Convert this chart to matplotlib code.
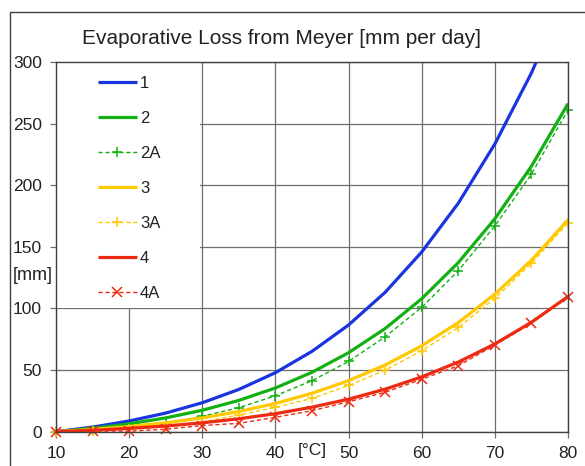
import matplotlib
matplotlib.use("Agg")
import matplotlib.pyplot as plt
from matplotlib.patches import Rectangle

plt.rcParams['font.family'] = ['Liberation Sans', 'DejaVu Sans']

# water temperature [°C]
temps = [10, 15, 20, 25, 30, 35, 40, 45, 50, 55, 60, 65, 70, 75, 80]

# evaporative loss [mm per day]
loss_1 = [0, 3.7, 8.7, 15.1, 23.5, 34.3, 47.9, 65.2, 86.6, 113.1, 145.8, 185.4, 233.5, 291.1, 359.7]
loss_2 = [0, 2.7, 6.4, 11.2, 17.4, 25.4, 35.5, 48.2, 64.1, 83.7, 107.9, 137.2, 172.8, 215.4, 266.2]
loss_2a = [0, 1.0, 3.2, 7.0, 12.5, 19.5, 29.2, 41.4, 57.0, 77.0, 100.9, 130.6, 167.0, 209.0, 261.0]
loss_3 = [0, 1.8, 4.2, 7.2, 11.2, 16.4, 22.9, 31.2, 41.4, 54.1, 69.7, 88.6, 111.6, 139.1, 171.9]
loss_3a = [0, 0.5, 2.0, 4.5, 8.0, 13.5, 19.8, 27.0, 37.5, 50.0, 65.7, 84.6, 108.2, 136.6, 169.5]
loss_4 = [0, 1.1, 2.7, 4.6, 7.2, 10.5, 14.6, 19.9, 26.4, 34.5, 44.5, 56.5, 71.2, 88.8, 109.7]
loss_4a = [0, 0.5, 0.5, 2.0, 5.0, 6.8, 11.7, 17.0, 24.3, 32.0, 42.5, 53.5, 70.3, 87.9, 109.5]

BLUE = '#1a35e0'
GREEN = '#12b012'
YELLOW = '#ffc800'
RED = '#ee2a12'

fig = plt.figure(figsize=(5.85, 4.66), dpi=100)
ax = fig.add_axes([56 / 585, 1 - 431.7 / 466, 512 / 585, 369.7 / 466])

solid = dict(lw=2.3, solid_capstyle='butt')
dashed = dict(lw=1.0, ls=(0, (3, 2)), ms=7, mew=1.1, clip_on=False)

ax.plot(temps, loss_1, color=BLUE, label='1', **solid)
ax.plot(temps, loss_2, color=GREEN, label='2', **solid)
ax.plot(temps, loss_2a, color=GREEN, marker='+', label='2A', **dashed)
ax.plot(temps, loss_3, color=YELLOW, label='3', **solid)
ax.plot(temps, loss_3a, color=YELLOW, marker='+', label='3A', **dashed)
ax.plot(temps, loss_4, color=RED, label='4', **solid)
ax.plot(temps, loss_4a, color=RED, marker='x', label='4A', **dashed)

ax.set_xlim(10, 80)
ax.set_ylim(0, 300)
ax.set_xticks(range(10, 81, 10))
ax.set_yticks(range(0, 301, 50))
ax.set_axisbelow(True)
ax.grid(True, color='#6e6e6e', lw=0.9)
ax.tick_params(direction='out', length=4, width=0.9, color='#6e6e6e',
               labelsize=12.5, labelcolor='#222222', pad=6)
for sp in ax.spines.values():
    sp.set_color('#404040')
    sp.set_linewidth(1.0)

# white block behind the legend hides the grid
ax.add_patch(Rectangle((0, 0.335), 144 / 512, 0.665, transform=ax.transAxes,
                       facecolor='white', edgecolor='none', zorder=1))

leg = ax.legend(loc='upper left', bbox_to_anchor=(28 / 512, 1.0), frameon=False,
                fontsize=12, handlelength=2.3, handletextpad=0.2,
                labelspacing=1.2, borderaxespad=0.45)
for t in leg.get_texts():
    t.set_color('#222222')

fig.text(281 / 585, 1 - 39 / 466, 'Evaporative Loss from Meyer [mm per day]',
         ha='center', va='center', fontsize=15, color='#222222')
fig.text(13 / 585, 1 - 276 / 466, '[mm]', ha='left', va='center',
         fontsize=13, color='#222222')
fig.text(312 / 585, 1 - 451 / 466, '[°C]', ha='center', va='center',
         fontsize=12.5, color='#222222')

# outer frame around the whole chart
fig.patches.append(Rectangle((9.5 / 585, -0.1), 1.2, 1.1 - 11.5 / 466,
                             transform=fig.transFigure, fill=False,
                             edgecolor='#404040', lw=1.0))

fig.savefig('out.png', dpi=100)
